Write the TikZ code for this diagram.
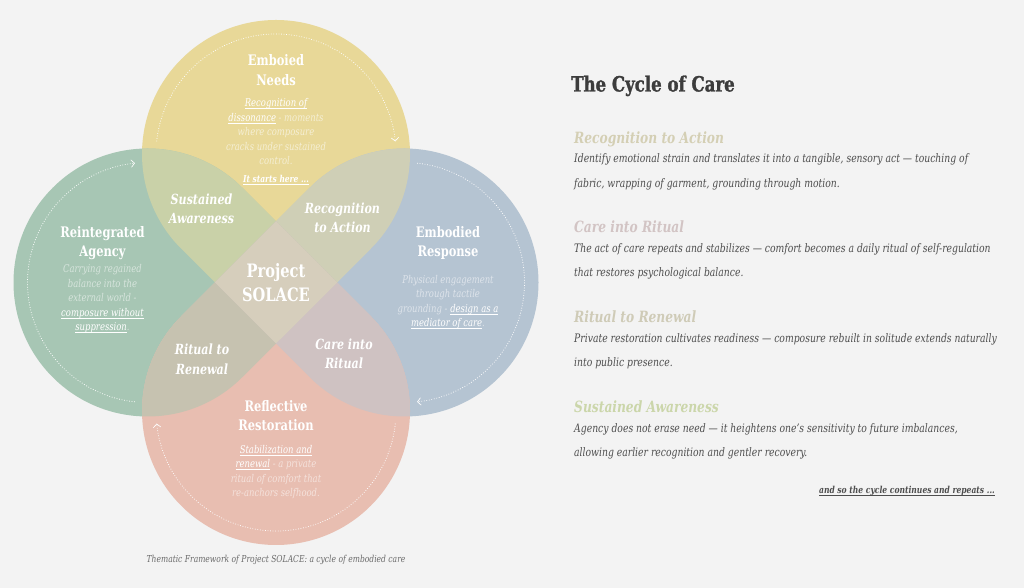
\documentclass[tikz,border=0pt]{standalone}
\usepackage{fontspec}
\setmainfont{DejaVu Serif}[FakeStretch=0.79]
\newfontfamily\titlefont{DejaVu Serif}[FakeStretch=0.79, BoldFeatures={FakeBold=1.3}]
\usetikzlibrary{arrows.meta,calc}
\definecolor{bg}{HTML}{F3F3F3}
\definecolor{cY}{HTML}{E8D898}
\definecolor{cG}{HTML}{A7C6B4}
\definecolor{cB}{HTML}{B5C4D2}
\definecolor{cP}{HTML}{E8BEB1}
\definecolor{cYG}{HTML}{C9D1A8}
\definecolor{cYB}{HTML}{CFCFB6}
\definecolor{cGP}{HTML}{C6C2B0}
\definecolor{cBP}{HTML}{CFC2C2}
\definecolor{cC}{HTML}{D6CEBC}
\definecolor{ink}{HTML}{4D4D4D}
\definecolor{titlec}{HTML}{3C3C3C}
\definecolor{capc}{HTML}{6A6A6A}
\definecolor{hA}{HTML}{D4CFB4}
\definecolor{hB}{HTML}{D2C4C4}
\definecolor{hC}{HTML}{CFCBB7}
\definecolor{hD}{HTML}{CBD6AA}
\newcommand\ulc[1]{\setbox0=\hbox{#1}\rlap{\rule[-2pt]{\wd0}{0.65pt}}\box0}
\newcommand\uln[1]{{\color{white}\ulc{#1}}}
\newcommand\petal[3]{($(#1,#2)+(#3:189.5)$) -- ($(#1,#2)+(#3-45:134)$) arc[start angle={#3-45}, end angle={#3-315}, radius=134] -- cycle}
\newcommand\Txt[5]{\node[anchor=base,#4] (#1) at (#2,{588-#3}) {#5};}
\tikzset{
  hd/.style={text=white, font=\fontsize{14.5}{16}\selectfont\bfseries, inner sep=0},
  lens/.style={text=white, font=\fontsize{14}{16}\selectfont\bfseries\itshape, inner sep=0},
  ctr/.style={text=white, font=\fontsize{18.5}{20}\selectfont\bfseries, inner sep=0},
  bd/.style={font=\fontsize{10.7}{12}\selectfont\itshape, inner sep=0},
  bdY/.style={bd, text=white!58!cY},
  bdG/.style={bd, text=white!55!cG},
  bdB/.style={bd, text=white!55!cB},
  bdP/.style={bd, text=white!55!cP},
  startlbl/.style={text=white, font=\fontsize{9.5}{11}\selectfont\bfseries\itshape, inner sep=0},
  rh/.style={anchor=base west, font=\fontsize{15.5}{17}\selectfont\bfseries\itshape, inner sep=0},
  rt/.style={anchor=base west, text=ink, font=\fontsize{11.7}{13}\selectfont\itshape, inner sep=0},
  dots/.style={white, line width=0.75pt, dash pattern=on 0.75pt off 1.8pt,
    -{Straight Barb[length=3.4pt,width=7.5pt,line width=0.65pt]}},
}
\begin{document}
\begin{tikzpicture}[x=1pt,y=1pt]
\fill[bg] (0,0) rectangle (1024,588);
\useasboundingbox (0,0) rectangle (1024,588);
% petals
\fill[cY] \petal{276}{434}{270};
\fill[cG] \petal{147.5}{305.5}{0};
\fill[cB] \petal{404.5}{305.5}{180};
\fill[cP] \petal{276}{177}{90};
\begin{scope}
  \clip \petal{276}{434}{270};
  \fill[cYG] \petal{147.5}{305.5}{0};
  \fill[cYB] \petal{404.5}{305.5}{180};
\end{scope}
\begin{scope}
  \clip \petal{276}{177}{90};
  \fill[cGP] \petal{147.5}{305.5}{0};
  \fill[cBP] \petal{404.5}{305.5}{180};
\end{scope}
\begin{scope}
  \clip \petal{276}{434}{270};
  \fill[cC] \petal{276}{177}{90};
\end{scope}
% dotted cycle arcs
\draw[dots] ($(276,434)+(174:120)$) arc[start angle=174, end angle=6, radius=120];
\draw[dots] ($(404.5,305.5)+(84:120)$) arc[start angle=84, end angle=-84, radius=120];
\draw[dots] ($(276,177)+(-6:120)$) arc[start angle=-6, end angle=-174, radius=120];
\draw[dots] ($(147.5,305.5)+(264:120)$) arc[start angle=264, end angle=96, radius=120];
% top petal
\Txt{yh1}{276}{66}{hd}{Emboied}
\Txt{yh2}{276}{85.5}{hd}{Needs}
\Txt{yb1}{276}{107}{bdY}{\uln{Recognition of}}
\Txt{yb2}{276}{121.5}{bdY}{\uln{dissonance} - moments}
\Txt{yb3}{276}{136}{bdY}{where composure}
\Txt{yb4}{276}{150.5}{bdY}{cracks under sustained}
\Txt{yb5}{276}{165}{bdY}{control.}
\Txt{ys}{276}{183}{startlbl}{\uln{It starts here ...}}
% left petal
\Txt{gh1}{102.5}{238}{hd}{Reintegrated}
\Txt{gh2}{102.5}{257}{hd}{Agency}
\Txt{gb1}{102.5}{273}{bdG}{Carrying regained}
\Txt{gb2}{102.5}{287.5}{bdG}{balance into the}
\Txt{gb3}{102.5}{302}{bdG}{external world -}
\Txt{gb4}{102.5}{316.5}{bdG}{\uln{composure without}}
\Txt{gb5}{102.5}{331}{bdG}{\uln{suppression}.}
% right petal
\Txt{bh1}{448}{238}{hd}{Embodied}
\Txt{bh2}{448}{257}{hd}{Response}
\Txt{bb1}{448}{283.5}{bdB}{Physical engagement}
\Txt{bb2}{448}{298}{bdB}{through tactile}
\Txt{bb3}{448}{312.5}{bdB}{grounding - \uln{design as a}}
\Txt{bb4}{448}{327}{bdB}{\uln{mediator of care}.}
% bottom petal
\Txt{ph1}{276}{411.5}{hd}{Reflective}
\Txt{ph2}{276}{430.5}{hd}{Restoration}
\Txt{pb1}{276}{453.5}{bdP}{\uln{Stabilization and}}
\Txt{pb2}{276}{468}{bdP}{\uln{renewal} - a private}
\Txt{pb3}{276}{482.5}{bdP}{ritual of comfort that}
\Txt{pb4}{276}{497}{bdP}{re-anchors selfhood.}
% lenses
\Txt{la1}{201.5}{204.5}{lens}{Sustained}
\Txt{la2}{201.5}{224}{lens}{Awareness}
\Txt{lb1}{342.5}{213.5}{lens}{Recognition}
\Txt{lb2}{342.5}{233}{lens}{to Action}
\Txt{lc1}{202}{355}{lens}{Ritual to}
\Txt{lc2}{202}{374.5}{lens}{Renewal}
\Txt{ld1}{344}{349.5}{lens}{Care into}
\Txt{ld2}{344}{369}{lens}{Ritual}
% centre
\Txt{c1}{276}{277.5}{ctr}{Project}
\Txt{c2}{276}{302}{ctr}{SOLACE}
% caption
\Txt{cap}{276}{562.5}{text=capc, font=\fontsize{9.6}{11}\selectfont\itshape, inner sep=0}{Thematic Framework of Project SOLACE: a cycle of embodied care}
% right column
\Txt{title}{571}{91.5}{anchor=base west, text=titlec, font=\titlefont\fontsize{21}{24}\selectfont\bfseries, inner sep=0}{The Cycle of Care}
\Txt{h1}{574}{143.3}{rh, text=hA}{Recognition to Action}
\Txt{t1a}{574}{162.3}{rt}{Identify emotional strain and translates it into a tangible, sensory act — touching of}
\Txt{t1b}{574}{187.3}{rt}{fabric, wrapping of garment, grounding through motion.}
\Txt{h2}{574}{232.7}{rh, text=hB}{Care into Ritual}
\Txt{t2a}{574}{252.7}{rt}{The act of care repeats and stabilizes — comfort becomes a daily ritual of self-regulation}
\Txt{t2b}{574}{276.7}{rt}{that restores psychological balance.}
\Txt{h3}{574}{322.7}{rh, text=hC}{Ritual to Renewal}
\Txt{t3a}{574}{342.3}{rt}{Private restoration cultivates readiness — composure rebuilt in solitude extends naturally}
\Txt{t3b}{574}{367}{rt}{into public presence.}
\Txt{h4}{574}{412.3}{rh, text=hD}{Sustained Awareness}
\Txt{t4a}{574}{432.3}{rt}{Agency does not erase need — it heightens one’s sensitivity to future imbalances,}
\Txt{t4b}{574}{456.5}{rt}{allowing earlier recognition and gentler recovery.}
\Txt{more}{995}{493.3}{anchor=base east, text=ink, font=\fontsize{9.6}{11}\selectfont\bfseries\itshape, inner sep=0}{\ulc{and so the cycle continues and repeats ...}}
\end{tikzpicture}
\end{document}
